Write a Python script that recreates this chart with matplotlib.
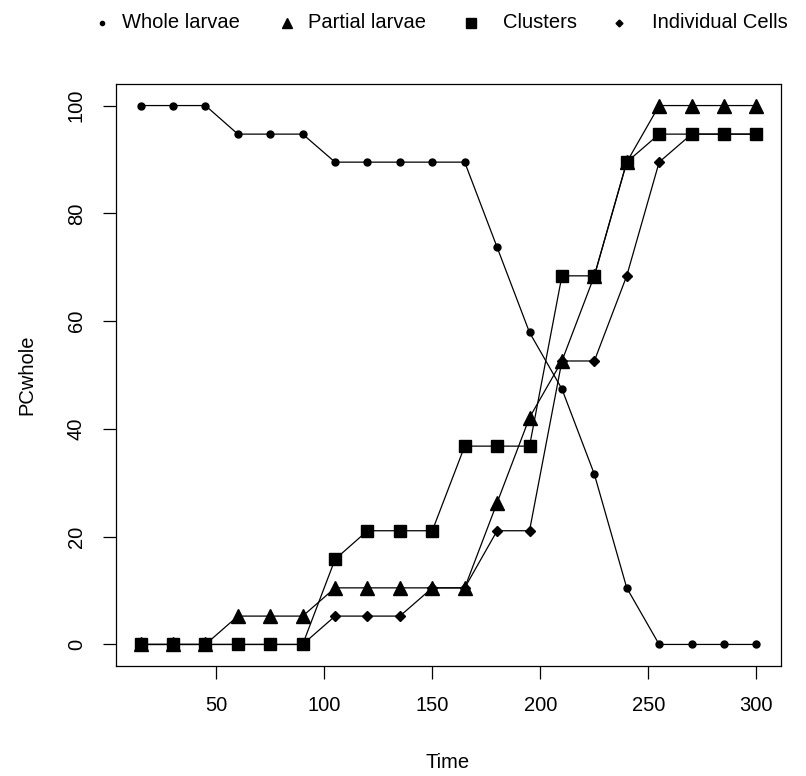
import matplotlib
matplotlib.use("Agg")
import matplotlib.pyplot as plt
from matplotlib.lines import Line2D

plt.rcParams['font.family'] = ['Liberation Sans', 'DejaVu Sans']

time = [15, 30, 45, 60, 75, 90, 105, 120, 135, 150, 165, 180, 195, 210, 225, 240, 255, 270, 285, 300]
whole = [100, 100, 100, 94.7, 94.7, 94.7, 89.5, 89.5, 89.5, 89.5, 89.5, 73.7, 57.9, 47.4, 31.6, 10.5, 0, 0, 0, 0]
partial = [0, 0, 0, 5.26, 5.26, 5.26, 10.5, 10.5, 10.5, 10.5, 10.5, 26.3, 42.1, 52.6, 68.4, 89.5, 100, 100, 100, 100]
clusters = [0, 0, 0, 0, 0, 0, 15.8, 21.1, 21.1, 21.1, 36.8, 36.8, 36.8, 68.4, 68.4, 89.5, 94.7, 94.7, 94.7, 94.7]
individual = [0, 0, 0, 0, 0, 0, 5.26, 5.26, 5.26, 10.5, 10.5, 21.1, 21.1, 52.6, 52.6, 68.4, 89.5, 94.7, 94.7, 94.7]

labels = ["Whole larvae", "Partial larvae", "Clusters", "Individual Cells"]
xticks = [50, 100, 150, 200, 250, 300]
yticks = [0, 20, 40, 60, 80, 100]

W, H = 806, 776
fig = plt.figure(figsize=(W / 100, H / 100), dpi=100)
ax = fig.add_axes([116 / W, 1 - 666 / H, (781 - 116) / W, (666 - 84) / H])

fs = 14.5
lw = 0.9
ax.plot(time, whole, color='black', lw=lw, marker='o', markersize=5, zorder=3)
ax.plot(time, partial, color='black', lw=lw, marker='^', markersize=9.5, zorder=3)
ax.plot(time, clusters, color='black', lw=lw, marker='s', markersize=8.6, zorder=3)
ax.plot(time, individual, color='black', lw=lw, marker='D', markersize=5.2, zorder=3)

xmin, xmax = min(time), max(time)
ext = (xmax - xmin) * 0.04
ax.set_xlim(xmin - ext, xmax + ext)
ax.set_ylim(-4, 104)

ax.set_xticks(xticks)
ax.set_xticklabels([str(t) for t in xticks], fontsize=fs)
ax.set_yticks(yticks)
ax.set_yticklabels([str(t) for t in yticks], fontsize=fs, rotation=90, va='center')
ax.tick_params(direction='out', length=9.7, width=0.9, pad=12, colors='black')
for s in ax.spines.values():
    s.set_linewidth(0.9)

fig.text(448 / W, 1 - 762 / H, "Time", fontsize=fs, ha='center', va='center')
fig.text(27 / W, 1 - 375 / H, "PCwhole", fontsize=fs, ha='center', va='center', rotation=90)

# legend (manual, R style horizontal, no box)
leg_markers = ['o', '^', 's', 'D']
leg_sizes = [3, 7.5, 6.5, 3.5]
marker_x = [102, 287, 471, 619]
text_x = [122, 308, 503, 652]
ly = 1 - 23 / H
for m, ms, mx, tx, lab in zip(leg_markers, leg_sizes, marker_x, text_x, labels):
    fig.add_artist(Line2D([mx / W], [ly], marker=m, markersize=ms, color='black',
                          linestyle='none', transform=fig.transFigure))
    fig.text(tx / W, ly, lab, fontsize=fs, ha='left', va='center')

fig.savefig("out.png", dpi=100)
